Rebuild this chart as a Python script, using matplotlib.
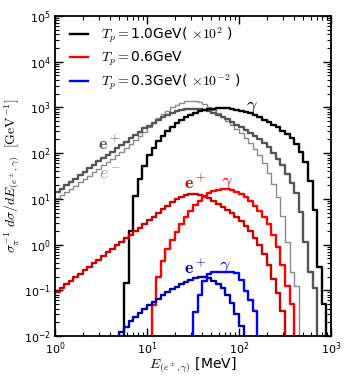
import numpy as np
import matplotlib
matplotlib.use("Agg")
import matplotlib.pyplot as plt
from matplotlib.ticker import LogLocator, NullFormatter

plt.rcParams['mathtext.fontset'] = 'cm'
plt.rcParams['font.family'] = 'DejaVu Sans'

# bin edges: 20 log bins per decade, 1 MeV .. 1000 MeV
edges = 10 ** (np.arange(61) * 0.05)

# log10 of spectra, one value per bin, first bin index given separately
# Tp = 1.0 GeV (x 1e2)
ep_10_start = 0
ep_10 = [1.15, 1.22, 1.30, 1.37, 1.44, 1.52, 1.59, 1.67, 1.74, 1.82,
         1.89, 1.96, 2.03, 2.11, 2.18, 2.25, 2.33, 2.40, 2.47, 2.54,
         2.60, 2.66, 2.72, 2.78, 2.83, 2.87, 2.91, 2.94, 2.96, 2.97,
         2.97, 2.96, 2.94, 2.92, 2.88, 2.84, 2.79, 2.74, 2.68, 2.62,
         2.56, 2.51, 2.45, 2.38, 2.31, 2.23, 2.13, 2.01, 1.88, 1.73,
         1.55, 1.35, 1.12, 0.72, 0.05, -0.60, -0.95]
em_10_start = 0
em_10 = [1.01, 1.08, 1.15, 1.22, 1.29, 1.37, 1.44, 1.51, 1.58, 1.66,
         1.73, 1.80, 1.88, 1.95, 2.03, 2.11, 2.19, 2.28, 2.37, 2.46,
         2.56, 2.66, 2.76, 2.85, 2.93, 3.00, 3.06, 3.10, 3.13, 3.14,
         3.13, 3.11, 3.07, 3.01, 2.94, 2.87, 2.79, 2.71, 2.62, 2.53,
         2.43, 2.34, 2.23, 2.10, 1.95, 1.78, 1.57, 1.33, 1.05, 0.62,
         0.05, -0.60, -0.90]
gam_10_start = 15
gam_10 = [-0.85, 0.30, 1.07, 1.43, 1.72, 1.95, 2.12, 2.26, 2.38, 2.48,
          2.57, 2.65, 2.72, 2.78, 2.83, 2.87, 2.91, 2.94, 2.96, 2.97,
          2.98, 2.98, 2.98, 2.97, 2.95, 2.93, 2.90, 2.87, 2.83, 2.78,
          2.73, 2.68, 2.62, 2.56, 2.49, 2.42, 2.32, 2.20, 2.03, 1.80,
          1.40, 0.75, -0.50, -1.30]

# Tp = 0.6 GeV
ep_06_start = 0
ep_06 = [-1.03, -0.95, -0.87, -0.80, -0.72, -0.64, -0.56, -0.49, -0.41, -0.33,
         -0.25, -0.17, -0.10, -0.02, 0.06, 0.14, 0.21, 0.29, 0.37, 0.45,
         0.53, 0.61, 0.69, 0.77, 0.85, 0.93, 1.00, 1.05, 1.09, 1.11,
         1.11, 1.09, 1.06, 1.01, 0.95, 0.89, 0.82, 0.75, 0.68, 0.60,
         0.51, 0.41, 0.29, 0.15, 0.00, -0.20, -0.45, -0.75, -1.05, -1.45]
gam_06_start = 21
gam_06 = [-1.33, -0.72, -0.35, -0.09, 0.10, 0.28, 0.45, 0.60, 0.74, 0.86,
          0.96, 1.05, 1.12, 1.17, 1.20, 1.21, 1.21, 1.19, 1.15, 1.10,
          1.03, 0.95, 0.85, 0.73, 0.60, 0.44, 0.22, -0.05, -0.45, -0.90,
          -1.30]

# Tp = 0.3 GeV (x 1e-2)
ep_03_start = 14
ep_03 = [-1.92, -1.80, -1.68, -1.58, -1.49, -1.41, -1.33, -1.25, -1.18, -1.11,
         -1.04, -0.98, -0.92, -0.86, -0.81, -0.77, -0.74, -0.72, -0.72, -0.74,
         -0.79, -0.86, -0.96, -1.10, -1.28, -1.52, -1.78]
gam_03_start = 30
gam_03 = [-1.48, -1.10, -0.80, -0.65, -0.60, -0.60, -0.60, -0.60, -0.61, -0.63,
          -0.78, -1.02, -1.22, -1.45]


def hist_line(ax, start, logvals, **kw):
    v = 10 ** np.asarray(logvals)
    e = edges[start:start + len(v) + 1]
    x = np.repeat(e, 2)[1:-1]
    y = np.repeat(v, 2)
    floor = 1e-5
    if start > 0:
        x = np.r_[e[0], x]
        y = np.r_[floor, y]
    x = np.r_[x, e[-1]]
    y = np.r_[y, floor]
    return ax.plot(x, y, **kw)


fig = plt.figure(figsize=(3.47, 3.78), dpi=100)
ax = fig.add_axes([0.1585, 0.111, 0.7955, 0.847])

hist_line(ax, em_10_start, em_10, color='#8a8a8a', lw=1.0)
hist_line(ax, ep_10_start, ep_10, color='#555555', lw=1.7)
hist_line(ax, gam_10_start, gam_10, color='black', lw=1.7)
hist_line(ax, ep_06_start, ep_06, color='#cc0000', lw=1.7)
hist_line(ax, gam_06_start, gam_06, color='#ff0000', lw=1.7)
hist_line(ax, ep_03_start, ep_03, color='#0000aa', lw=1.7)
hist_line(ax, gam_03_start, gam_03, color='#0000ff', lw=1.7)

# legend handles
ax.plot([], [], color='black', lw=1.7, label=r'$T_p=$1.0GeV( $\times10^2$ )')
ax.plot([], [], color='red', lw=1.7, label=r'$T_p=$0.6GeV')
ax.plot([], [], color='blue', lw=1.7, label=r'$T_p=$0.3GeV( $\times10^{-2}$ )')
ax.legend(loc='upper left', bbox_to_anchor=(0.02, 1.0), frameon=False, fontsize=10,
          handlelength=1.3, handletextpad=0.9, labelspacing=0.3, borderaxespad=0.3)

# curve labels
ax.text(2.95, 157, r'$\mathbf{e}^+$', color='#555555', fontsize=13, va='center')
ax.text(3.0, 35, r'$e^-$', color='#8a8a8a', fontsize=13, va='center')
ax.text(120, 1000, r'$\gamma$', color='black', fontsize=13, va='center')
ax.text(25.5, 21, r'$\mathbf{e}^+$', color='#cc0000', fontsize=13, va='center')
ax.text(64, 22, r'$\gamma$', color='red', fontsize=13, va='center')
ax.text(25.5, 0.30, r'$\mathbf{e}^+$', color='#0000aa', fontsize=13, va='center')
ax.text(61, 0.33, r'$\gamma$', color='blue', fontsize=13, va='center')

ax.set_xscale('log')
ax.set_yscale('log')
ax.set_xlim(1, 1000)
ax.set_ylim(1e-2, 1e5)
ax.yaxis.set_major_locator(LogLocator(base=10, numticks=20))
ax.yaxis.set_minor_locator(LogLocator(base=10, subs=np.arange(2, 10), numticks=100))
ax.yaxis.set_minor_formatter(NullFormatter())
ax.xaxis.set_minor_locator(LogLocator(base=10, subs=np.arange(2, 10), numticks=100))
ax.xaxis.set_minor_formatter(NullFormatter())
ax.tick_params(which='both', direction='in', top=True, right=True, labelsize=8)
ax.tick_params(which='major', length=5.5, width=1.0, pad=3)
ax.tick_params(which='minor', length=3, width=0.8)
for s in ax.spines.values():
    s.set_linewidth(1.3)

ax.set_xlabel(r'$E_{(e^\pm,\gamma)}$ [MeV]', fontsize=10, labelpad=-1)
ax.set_ylabel(r'$\sigma_\pi^{-1}\ d\sigma/dE_{(e^\pm,\gamma)}\ \ [\mathrm{GeV}^{-1}]$',
              fontsize=10, labelpad=1)

fig.savefig('out.png', dpi=100)
